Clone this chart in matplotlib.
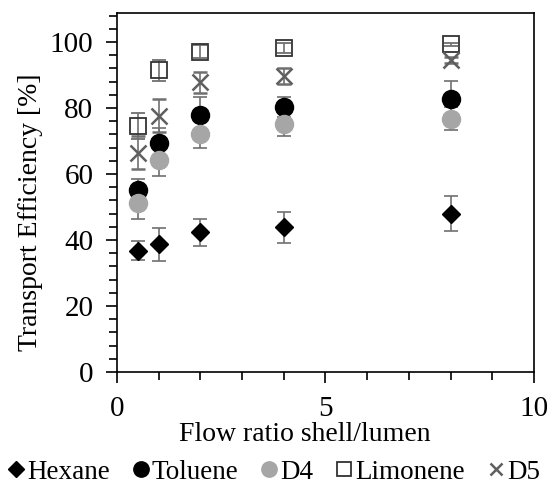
import matplotlib
matplotlib.use("Agg")
import matplotlib.pyplot as plt
from matplotlib.ticker import MultipleLocator

plt.rcParams['font.family'] = ['Liberation Serif', 'DejaVu Serif']

# flow ratio shell/lumen
flow_ratio = [0.5, 1, 2, 4, 8]

hexane = [36.8, 38.7, 42.3, 43.8, 48.0]
hexane_err = [2.8, 5.0, 4.1, 4.8, 5.4]
toluene = [55.2, 69.3, 77.8, 80.3, 82.6]
toluene_err = [3.3, 4.7, 5.4, 3.1, 5.5]
d4 = [51.3, 64.1, 72.0, 75.2, 76.8]
d4_err = [4.9, 4.7, 4.0, 3.6, 3.5]
limonene = [74.5, 91.5, 97.1, 98.3, 99.3]
limonene_err = [4.0, 3.2, 2.0, 1.5, 0.5]
d5 = [66.5, 77.7, 87.8, 89.7, 94.5]
d5_err = [5.0, 5.0, 3.2, 2.3, 1.0]

fig = plt.figure(figsize=(5.51, 4.88), dpi=100)
ax = fig.add_axes([0.2123, 0.2377, 0.7567, 0.735])

eb = dict(ecolor='#707070', elinewidth=1.2, capsize=4.8, capthick=1.2, linestyle='none')

ax.errorbar(flow_ratio, hexane, yerr=hexane_err, marker='D', ms=9.5, mfc='black', mec='black',
            label='Hexane', **eb)
ax.errorbar(flow_ratio, toluene, yerr=toluene_err, marker='o', ms=13, mfc='black', mec='black',
            label='Toluene', **eb)
ax.errorbar(flow_ratio, d4, yerr=d4_err, marker='o', ms=13, mfc='#a6a6a6', mec='#a6a6a6',
            label='D4', **eb)
ax.errorbar(flow_ratio, limonene, yerr=limonene_err, marker='s', ms=11.5, mfc='none', mec='#333333',
            mew=1.3, label='Limonene', **eb)
ax.errorbar(flow_ratio, d5, yerr=d5_err, marker='x', ms=11, mec='#5f5f5f', mew=1.8,
            label='D5', **eb)

ax.set_xlim(0, 10)
ax.set_ylim(0, 108.7)
ax.xaxis.set_major_locator(MultipleLocator(5))
ax.xaxis.set_minor_locator(MultipleLocator(1))
ax.yaxis.set_major_locator(MultipleLocator(20))
ax.yaxis.set_minor_locator(MultipleLocator(4))
ax.tick_params(which='major', length=8, width=1.2, labelsize=21, direction='out')
ax.tick_params(axis='x', which='major', pad=9)
ax.tick_params(axis='y', which='major', pad=9)
ax.tick_params(which='minor', length=6, width=1.2, direction='out')
for s in ax.spines.values():
    s.set_linewidth(1.2)

# labels sit a bit off-centre in the original
ax.set_xlabel('Flow ratio shell/lumen', fontsize=20, labelpad=0, x=0.45)
ax.set_ylabel('Transport Efficiency [%]', fontsize=20, labelpad=5, y=0.446)

handles, labels = ax.get_legend_handles_labels()
handles = [h[0] for h in handles]
fig.legend(handles, labels, loc='lower left', bbox_to_anchor=(-0.03, -0.043), ncol=5,
           frameon=False, fontsize=19.5, handlelength=0.6, handletextpad=0.1,
           columnspacing=0.85, markerscale=0.85)

fig.savefig('out.png', dpi=100)
